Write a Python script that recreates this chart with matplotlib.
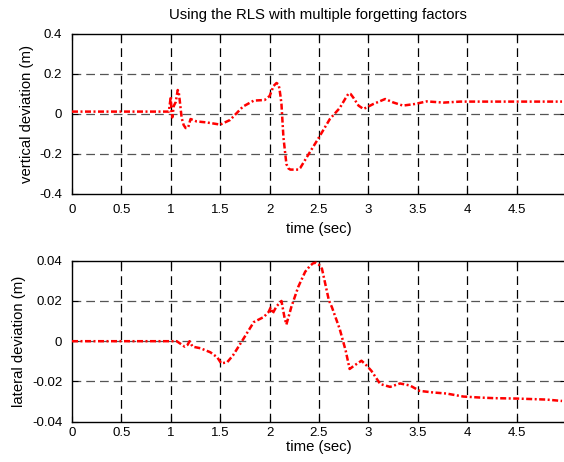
import matplotlib
matplotlib.use("Agg")
import matplotlib.pyplot as plt
import numpy as np

plt.rcParams['font.family'] = ['Liberation Sans', 'DejaVu Sans']

# top: vertical deviation (m)
t_vert = [0.0, 0.5, 0.98, 1.0, 1.005, 1.015, 1.03, 1.05, 1.07, 1.08, 1.09, 1.11, 1.13, 1.15, 1.17, 1.18, 1.2,
          1.26, 1.36, 1.5, 1.6, 1.73, 1.84, 1.95, 2.0, 2.02, 2.04, 2.07, 2.09, 2.1, 2.11, 2.12, 2.14, 2.17,
          2.19, 2.21, 2.29, 2.31, 2.375, 2.49, 2.61, 2.71, 2.77, 2.8, 2.82, 2.85, 2.9, 2.95, 3.05, 3.17, 3.25,
          3.35, 3.47, 3.59, 3.76, 3.93, 4.3, 4.96]
v_vert = [0.012, 0.012, 0.012, 0.087, 0.02, -0.017, 0.04, 0.06, 0.12, 0.11, 0.07, -0.02, -0.055, -0.07, -0.07, -0.06, -0.025,
          -0.037, -0.042, -0.053, -0.03, 0.037, 0.067, 0.07, 0.09, 0.115, 0.14, 0.155, 0.148, 0.125, 0.09, 0.05, -0.117, -0.25,
          -0.272, -0.278, -0.278, -0.27, -0.217, -0.125, -0.025, 0.03, 0.08, 0.103, 0.1, 0.08, 0.042, 0.025, 0.05, 0.075, 0.058,
          0.042, 0.05, 0.063, 0.057, 0.062, 0.062, 0.062]

# bottom: lateral deviation (m)
t_lat = [0.0, 0.5, 1.06, 1.09, 1.14, 1.17, 1.19, 1.22, 1.3, 1.4, 1.47, 1.51, 1.57, 1.63, 1.72,
         1.84, 1.94, 1.99, 2.01, 2.03, 2.07, 2.12, 2.15, 2.17, 2.22, 2.29, 2.36, 2.41, 2.44, 2.47,
         2.5, 2.53, 2.6, 2.63, 2.71, 2.77, 2.81, 2.86, 2.93, 2.98, 3.03, 3.12, 3.22, 3.32,
         3.42, 3.52, 3.66, 3.79, 3.96, 4.13, 4.27, 4.5, 4.8, 4.96]
v_lat = [0.0, 0.0, 0.0, -0.001, -0.0027, -0.0018, 0.0, -0.0027, -0.0035, -0.0055, -0.008, -0.011, -0.0105, -0.007, 0.0,
         0.0095, 0.012, 0.0145, 0.0167, 0.0137, 0.0173, 0.02, 0.012, 0.0083, 0.017, 0.027, 0.0345, 0.0375, 0.0387, 0.039,
         0.038, 0.036, 0.0203, 0.017, 0.006, -0.0047, -0.0138, -0.012, -0.0097, -0.012, -0.0147, -0.0213, -0.0227, -0.021,
         -0.022, -0.0247, -0.0255, -0.026, -0.0275, -0.028, -0.0283, -0.0285, -0.029, -0.0297]

x_ticks = [0, 0.5, 1, 1.5, 2, 2.5, 3, 3.5, 4, 4.5]
x_tick_labels = ['0', '0.5', '1', '1.5', '2', '2.5', '3', '3.5', '4', '4.5']
top_yticks = [-0.4, -0.2, 0, 0.2, 0.4]
top_ylabels = ['-0.4', '-0.2', '0', '0.2', '0.4']
bot_yticks = [-0.04, -0.02, 0, 0.02, 0.04]
bot_ylabels = ['-0.04', '-0.02', '0', '0.02', '0.04']

fig = plt.figure(figsize=(5.64, 4.62), dpi=100)
W, H = 564, 462
left_px, right_px = 72, 566

def make_ax(top_px, bot_px):
    return fig.add_axes([left_px / W, (H - bot_px) / H, (right_px - left_px) / W, (bot_px - top_px) / H])

ax1 = make_ax(34, 194)
ax2 = make_ax(260.7, 421.7)

def style(ax, t, v, yticks, ylabels, ylim, ylabel, xpad, xlabelpad):
    ax.set_xlim(0, 5.0)
    ax.set_ylim(*ylim)
    ax.set_xticks(x_ticks)
    ax.set_xticklabels(x_tick_labels)
    ax.set_yticks(yticks)
    ax.set_yticklabels(ylabels)
    for x in x_ticks[1:]:
        ax.axvline(x, color='black', lw=0.9, dashes=(7, 4), zorder=1)
    for y in yticks[1:-1]:
        ax.axhline(y, color='#555555', lw=0.9, dashes=(7, 4), zorder=1)
    ax.plot(t, v, color='red', lw=1.8, dashes=(2.4, 1.0, 0.8, 1.0), zorder=3)
    ax.tick_params(direction='in', top=True, right=True, length=4, labelsize=9.5, width=0.8)
    ax.tick_params(axis='x', pad=xpad)
    ax.tick_params(axis='y', pad=7)
    for s in ax.spines.values():
        s.set_linewidth(1.0)
    ax.set_xlabel('time (sec)', fontsize=10.7, labelpad=xlabelpad)
    ax.set_ylabel(ylabel, fontsize=10.7, labelpad=4)

style(ax1, t_vert, v_vert, top_yticks, top_ylabels, (-0.4, 0.4), 'vertical deviation (m)', 7, 4.5)
style(ax2, t_lat, v_lat, bot_yticks, bot_ylabels, (-0.04, 0.04), 'lateral deviation (m)', 4, 0.8)
ax1.set_title('Using the RLS with multiple forgetting factors', fontsize=10.7, pad=11)
ax1.title.set_position((0.497, 1.0))

fig.savefig('out.png', dpi=100)
